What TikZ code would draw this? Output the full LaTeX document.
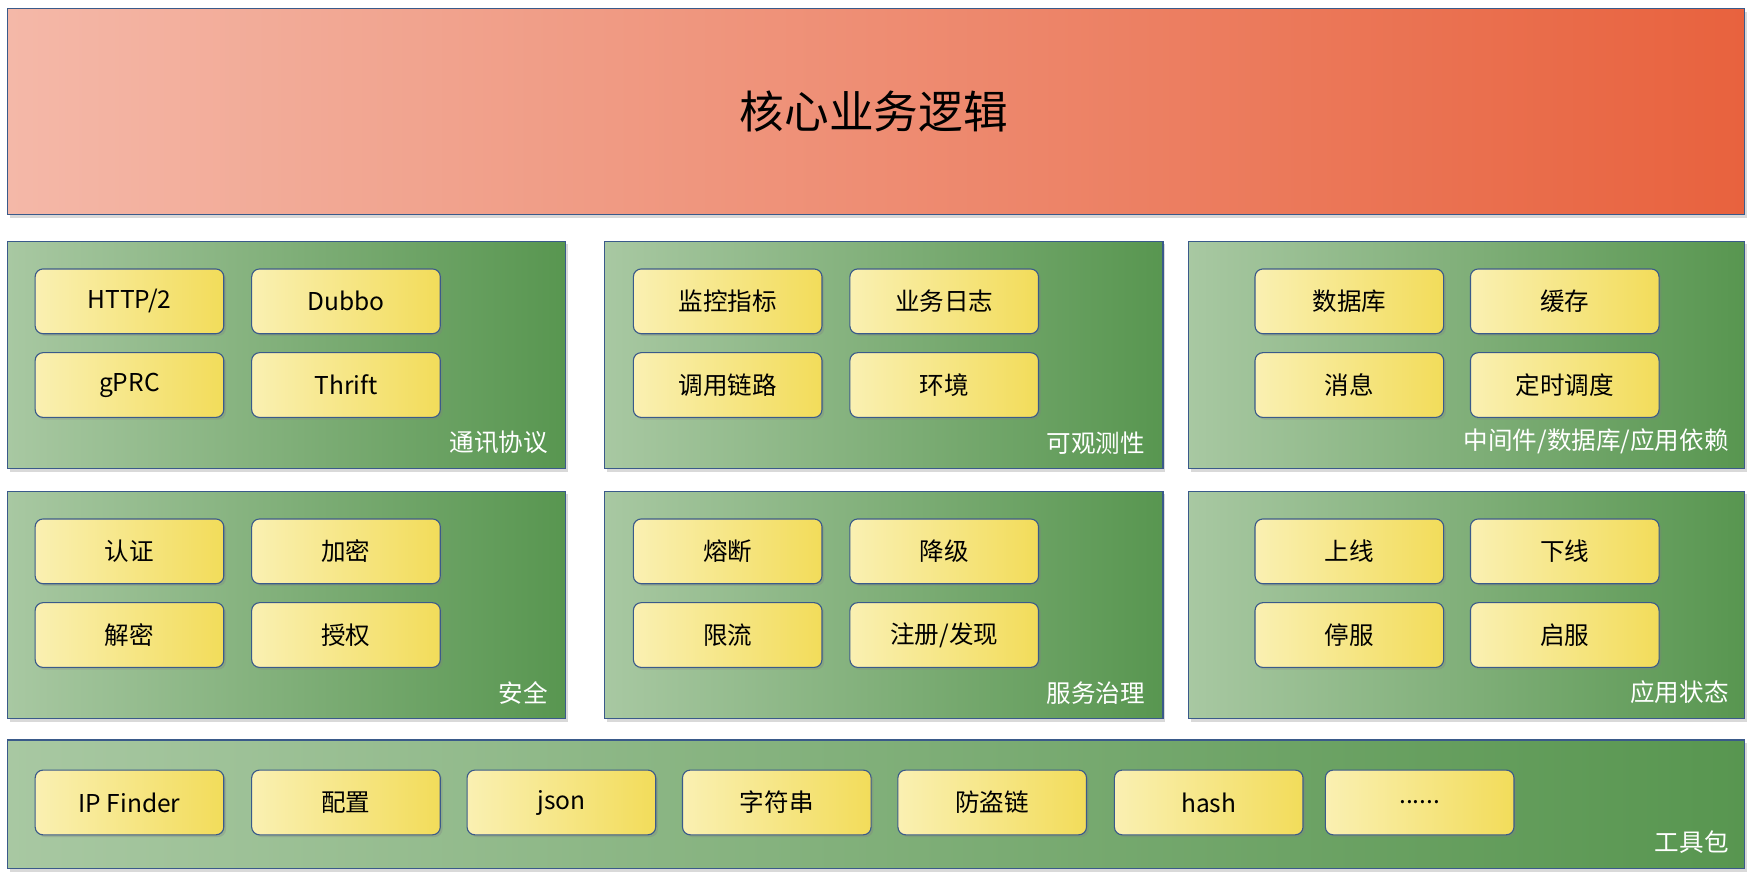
\documentclass[tikz,border=0pt]{standalone}
\usepackage{fontspec}
\setmainfont{Noto Sans CJK SC}
\usetikzlibrary{shadows}
\definecolor{bd}{HTML}{3A5A8A}
\tikzset{
 x=1pt,y=-1pt,
 topbox/.style={draw=bd,line width=1pt,shading=axis,left color={rgb,255:red,244;green,184;blue,168},right color={rgb,255:red,232;green,98;blue,62},drop shadow={opacity=0.3,shadow xshift=2pt,shadow yshift=-3pt}},
 panel/.style={draw=bd,line width=1pt,shading=axis,left color={rgb,255:red,168;green,200;blue,162},right color={rgb,255:red,88;green,150;blue,80},drop shadow={opacity=0.3,shadow xshift=2pt,shadow yshift=-3pt}},
 btn/.style={draw=bd,line width=1pt,rounded corners=7pt,shading=axis,left color={rgb,255:red,250;green,240;blue,178},right color={rgb,255:red,242;green,220;blue,90},minimum width=169pt,minimum height=58pt,font=\fontsize{22}{24}\selectfont,drop shadow={opacity=0.3,shadow xshift=2pt,shadow yshift=-2pt}},
 plabel/.style={anchor=south east,text=white,font=\fontsize{22}{24}\selectfont,inner sep=0pt}
}
\begin{document}
\begin{tikzpicture}
\useasboundingbox (0,0) rectangle (1568,783);
\path[topbox] (7,8) rectangle (1563,192);
\node (top) at (783,100) {\fontsize{40}{44}\selectfont 核心业务逻辑};
\foreach \px/\py/\pw/\name in {7/216/500/a,542/216/500/b,1065/216/498/c,7/440/500/d,542/440/500/e,1065/440/498/f}{
 \path[panel] (\px,\py) rectangle ++(\pw,204) coordinate (\name);
}
\path[panel] (7,663) rectangle (1563,778) coordinate (g);
\node[plabel] (la) at ([xshift=-16pt,yshift=13pt]a) {通讯协议};
\node[plabel] (lb) at ([xshift=-16pt,yshift=13pt]b) {可观测性};
\node[plabel] (lc) at ([xshift=-14pt,yshift=13pt]c) {中间件/数据库/应用依赖};
\node[plabel] (ld) at ([xshift=-16pt,yshift=13pt]d) {安全};
\node[plabel] (le) at ([xshift=-16pt,yshift=13pt]e) {服务治理};
\node[plabel] (lf) at ([xshift=-14pt,yshift=13pt]f) {应用状态};
\node[plabel] (lg) at ([xshift=-14pt,yshift=13pt]g) {工具包};
\foreach \cx/\cy/\t [count=\i] in {
 116/270/{HTTP/2}, 310/270/Dubbo, 116/345/gPRC, 310/345/Thrift,
 652/270/监控指标, 846/270/业务日志, 652/345/调用链路, 846/345/环境,
 1209/270/数据库, 1402/270/缓存, 1209/345/消息, 1402/345/定时调度,
 116/494/认证, 310/494/加密, 116/569/解密, 310/569/授权,
 652/494/熔断, 846/494/降级, 652/569/限流, 846/569/{注册/发现},
 1209/494/上线, 1402/494/下线, 1209/569/停服, 1402/569/启服,
 116/719/IP Finder, 310/719/配置, 503/719/json, 696/719/字符串, 889/719/防盗链, 1083/719/hash, 1272/719/{{......}}}{
 \node[btn] (b\i) at (\cx,\cy) {\t};
}
\end{tikzpicture}
\end{document}
